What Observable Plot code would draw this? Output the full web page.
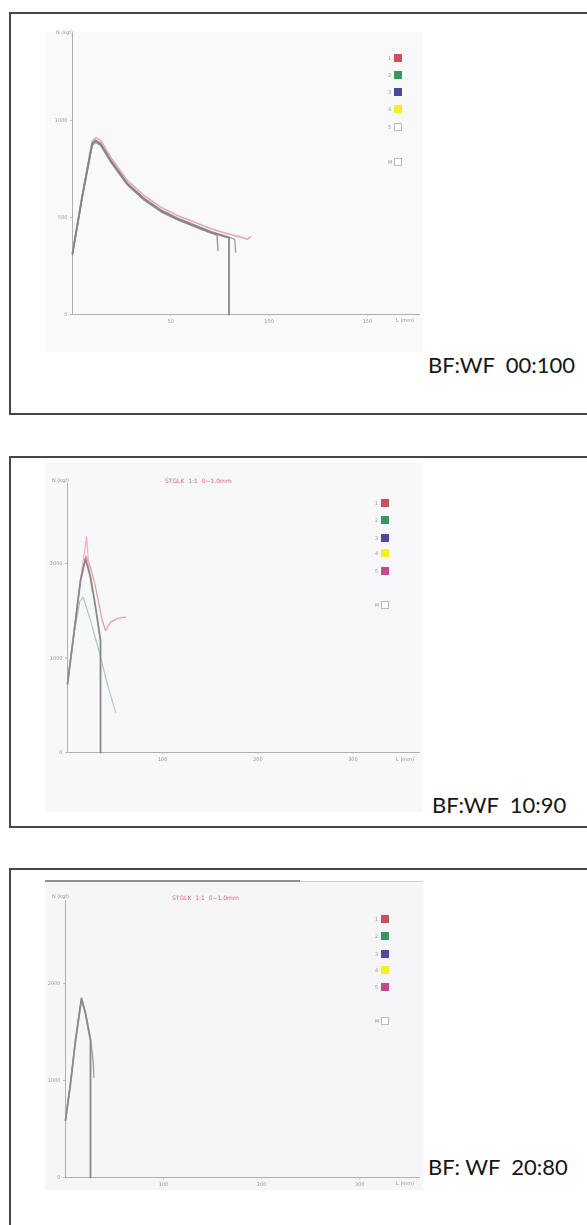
<!DOCTYPE html>
<html><head><meta charset="utf-8">
<script src="https://cdn.jsdelivr.net/npm/d3@7"></script>
<script src="https://cdn.jsdelivr.net/npm/@observablehq/plot@0.6"></script>
<style>
html,body{margin:0;padding:0;background:#fff}
body{width:587px;height:1225px;overflow:hidden;position:relative;font-family:Lato,"Open Sans",sans-serif}
.box{position:absolute;border:2px solid #474747;box-sizing:border-box}
.scan{position:absolute;filter:blur(0.45px)}
.lab{position:absolute;font-family:Lato,sans-serif;font-size:22px;color:#151515;white-space:pre;line-height:1}
.tiny{position:absolute;font-family:"DejaVu Sans",sans-serif;font-size:5px;color:#999;white-space:pre;line-height:1;filter:blur(0.4px)}
.red{position:absolute;font-family:"DejaVu Sans",sans-serif;font-size:6px;color:#e0607e;white-space:pre;line-height:1;filter:blur(0.4px)}
.sq{position:absolute;width:8px;height:8px;filter:blur(0.5px)}
</style></head><body>
<script>
// ---------- text ----------
const panelLabels = ["BF:WF  00:100", "BF:WF  10:90", "BF: WF  20:80"];
const yAxisLabel = "N (kgf)";
const xAxisLabel = "L (mm)";
const chartTitle = "STGLK  1:1  0~1.0mm";

// ---------- ticks ----------
const p1XTicks = [50, 100, 150];
const p1YTicks = [0, 500, 1000];
const p2XTicks = [100, 200, 300];
const p2YTicks = [0, 1000, 2000];
const p3XTicks = [100, 200, 300];
const p3YTicks = [0, 1000, 2000];

// ---------- legend ----------
const legendKeys = ["1", "2", "3", "4", "5", "M"];
const legendColors1 = ["#c9505e", "#33995f", "#4b4b9c", "#f2f024", "#ffffff", "#ffffff"];
const legendColors23 = ["#c9505e", "#33995f", "#4b4b9c", "#f2f024", "#c24a8c", "#ffffff"];

// ---------- panel 1 (BF:WF 00:100) ----------
const p1Pink = [[0,320],[4.9,615],[10,895],[11.9,913],[14.5,897],[19.4,812],[27.9,692],[36.4,614],[44.9,554],[53.4,511],[61.9,477],[70.4,443],[78.9,417],[86,398],[89,388],[90.5,402]];
const p1GrayA = [[0,313],[4.9,605],[10,880],[11.7,897],[14.3,880],[19.4,794],[27.9,674],[36.4,596],[44.9,536],[53.4,493],[61.9,459],[70.4,424],[78.9,398],[79.6,395],[79.6,0]];
const p1GrayB = [[0,310],[4.9,600],[10,872],[11.7,889],[14.3,872],[19.4,786],[27.9,668],[36.4,590],[44.9,530],[53.4,488],[61.9,454],[70.4,420],[73.5,410],[74,330]];
const p1GrayC = [[0,316],[4.9,608],[10,884],[11.7,900],[14.3,884],[19.4,799],[27.9,679],[36.4,601],[44.9,541],[53.4,498],[61.9,464],[70.4,429],[78.9,402],[82.5,388],[83,322]];

// ---------- panel 2 (BF:WF 10:90) ----------
const p2Gray = [[0,727],[6.7,1256],[13.7,1820],[18.9,2050],[24.2,1855],[29.5,1538],[34.7,1185],[34.7,0]];
const p2Pink = [[0,740],[7,1290],[14,1850],[20,2278],[22.5,1961],[26,1700]];
const p2Red = [[0,735],[6.7,1265],[13.7,1830],[19.5,2080],[24.5,1950],[29.5,1750],[36.5,1397],[40,1291],[45.3,1379],[53,1420],[61,1432]];
const p2Green = [[0,720],[6.7,1250],[13,1600],[16.5,1643],[24.2,1397],[33,1079],[41.8,727],[50.5,426]];

// ---------- panel 3 (BF:WF 20:80) ----------
const p3GrayA = [[0,588],[5.1,966],[10.2,1412],[16.3,1842],[20.4,1688],[25.5,1412],[25.5,0]];
const p3GrayB = [[0,600],[5.1,975],[10.2,1420],[16.3,1850],[20.4,1700],[25.5,1430],[28.2,1206],[28.9,1034]];

function el(cls, css, text) {
  const d = document.createElement("div");
  d.className = cls;
  Object.assign(d.style, css);
  if (text != null) d.textContent = text;
  document.body.appendChild(d);
  return d;
}

const plain = d => String(d);

function axisMarks(xTicks, yTicks) {
  return [
    Plot.ruleY([0], {stroke: "#b0b0b0", strokeWidth: 1}),
    Plot.ruleX([0], {stroke: "#b0b0b0", strokeWidth: 1}),
    Plot.axisX({ticks: xTicks, tickFormat: plain, tickSize: 2, tickPadding: 3, label: null, stroke: "#bbb", fill: "#9a9a9a"}),
    Plot.axisY({ticks: yTicks, tickFormat: plain, tickSize: 2, tickPadding: 3, label: null, stroke: "#bbb", fill: "#9a9a9a"})
  ];
}

function lineL(data, stroke, w) {
  return Plot.line(data, {x: d => d[0], y: d => d[1], stroke, strokeWidth: w});
}

function panel(o) {
  const svg = Plot.plot({
    width: o.w, height: o.h,
    marginLeft: o.ml, marginRight: o.mr, marginTop: o.mt, marginBottom: o.mb,
    x: {domain: o.xd}, y: {domain: o.yd},
    style: {background: o.bg, fontSize: "5px", fontFamily: "DejaVu Sans", overflow: "visible"},
    marks: [...axisMarks(o.xt, o.yt), ...o.marks]
  });
  const wrap = el("scan", {left: o.left + "px", top: o.top + "px", width: o.w + "px", height: o.h + "px"});
  wrap.appendChild(svg);
}

// boxes
el("box", {left: "9px", top: "12px", width: "620px", height: "403px"});
el("box", {left: "9px", top: "456px", width: "620px", height: "372px"});
el("box", {left: "9px", top: "868px", width: "620px", height: "400px"});

// panel 1
panel({left: 45, top: 32, w: 378, h: 320, ml: 27, mr: 3, mt: 1, mb: 38,
  xd: [0, 177], yd: [0, 1450], xt: p1XTicks, yt: p1YTicks, bg: "#f9f9f9",
  marks: [
    lineL(p1Pink, "#e9a9b4", 1.6),
    lineL(p1GrayB, "#9a9a9a", 1.4),
    lineL(p1GrayC, "#a3a3a3", 1.4),
    lineL(p1GrayA, "#858585", 1.8)
  ]});
// panel 2
panel({left: 45, top: 463, w: 378, h: 349, ml: 22, mr: 3, mt: 20, mb: 60,
  xd: [0, 371], yd: [0, 2846], xt: p2XTicks, yt: p2YTicks, bg: "#f8f7f9",
  marks: [
    lineL(p2Green, "#a9cdb9", 1.2),
    lineL(p2Red, "#e2a2a2", 1.3),
    lineL(p2Pink, "#f1b0c0", 1.3),
    lineL(p2Gray, "#8a8a8a", 1.8)
  ]});
// panel 3
panel({left: 45, top: 881, w: 378, h: 309, ml: 20, mr: 3, mt: 19, mb: 13,
  xd: [0, 362], yd: [0, 2856], xt: p3XTicks, yt: p3YTicks, bg: "#f6f6f9",
  marks: [
    lineL(p3GrayB, "#a2aa9e", 1.5),
    lineL(p3GrayA, "#8a8a8a", 1.8)
  ]});

// scan top line in panel 3
el("scan", {left: "45px", top: "880px", width: "255px", height: "2px", background: "#8f8f8f"});
el("scan", {left: "300px", top: "881px", width: "123px", height: "1px", background: "#cfcfcf"});

// axis unit labels and titles
el("tiny", {left: "56px", top: "30px"}, yAxisLabel);
el("tiny", {left: "396px", top: "318px"}, xAxisLabel);
el("tiny", {left: "52px", top: "478px"}, yAxisLabel);
el("tiny", {left: "396px", top: "757px"}, xAxisLabel);
el("tiny", {left: "52px", top: "894px"}, yAxisLabel);
el("tiny", {left: "396px", top: "1181px"}, xAxisLabel);
el("red", {left: "165px", top: "478px"}, chartTitle);
el("red", {left: "172px", top: "895px"}, chartTitle);

// legends
function legend(x, ys, colors) {
  ys.forEach((y, i) => {
    el("tiny", {left: (x - 10) + "px", top: (y - 2) + "px"}, legendKeys[i]);
    el("sq", {left: (x - 4) + "px", top: (y - 4) + "px", background: colors[i],
      border: colors[i] === "#ffffff" ? "1px solid #bbb" : "none", boxSizing: "border-box"});
  });
}
legend(398, [58, 75, 92, 109, 127, 162], legendColors1);
legend(385, [503, 520, 538, 553, 571, 605], legendColors23);
legend(385, [919, 936, 954, 970, 987, 1021], legendColors23);

// panel labels
el("lab", {left: "428px", top: "354px"}, panelLabels[0]);
el("lab", {left: "432px", top: "794px"}, panelLabels[1]);
el("lab", {left: "428px", top: "1156px"}, panelLabels[2]);
</script>
</body></html>
